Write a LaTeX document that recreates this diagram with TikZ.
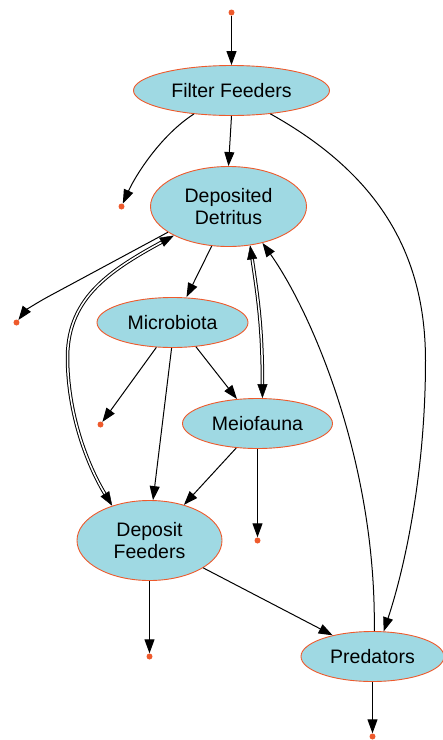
\documentclass[tikz,border=0pt]{standalone}
\usepackage{fontspec}
\setmainfont{Liberation Sans}
\usetikzlibrary{shapes.geometric,arrows.meta}
\definecolor{nodefill}{HTML}{9FD9E3}
\definecolor{nodeline}{HTML}{EE5A2C}
\tikzset{
  every picture/.style={x=1pt,y=-1pt},
  pool/.style={ellipse,draw=nodeline,fill=nodefill,line width=0.9pt,inner sep=0pt,align=center,
    font=\fontsize{19.5}{22}\selectfont},
  sink/.style={circle,fill=nodeline,inner sep=0pt,minimum size=6pt},
  flow/.style={line width=1pt,-{Triangle[length=14pt,width=10pt]}},
  dline/.style={line width=1pt,double,double distance=1.5pt,shorten <=13pt,shorten >=13pt},
  dtips/.style={draw=white,line width=0.4pt,
    {Triangle[length=14pt,width=10pt,color=black]}-{Triangle[length=14pt,width=10pt,color=black]}}
}
\begin{document}
\begin{tikzpicture}
\useasboundingbox (-0.5,-0.5) rectangle (442.5,739.5);
% nodes
\node[pool,minimum width=196pt,minimum height=50pt] (ff) at (231,90) {Filter Feeders};
\node[pool,minimum width=156pt,minimum height=80pt] (dd) at (228,206) {Deposited\\Detritus};
\node[pool,minimum width=151pt,minimum height=50pt] (mb) at (172,322) {Microbiota};
\node[pool,minimum width=150pt,minimum height=50pt] (mf) at (257,423) {Meiofauna};
\node[pool,minimum width=145pt,minimum height=80pt] (df) at (149,540) {Deposit\\Feeders};
\node[pool,minimum width=143pt,minimum height=50pt] (pr) at (372,656) {Predators};
% sinks / sources
\node[sink] (d0) at (231,12) {};
\node[sink] (d1) at (121,206) {};
\node[sink] (d2) at (16,322) {};
\node[sink] (d3) at (100,424) {};
\node[sink] (d4) at (257,540) {};
\node[sink] (d5) at (149,656) {};
\node[sink] (d6) at (372,736) {};
% edges
\draw[flow] (d0) -- (ff.north);
\draw[flow] (ff.212) .. controls (160,135) and (135,175) .. (d1);
\draw[flow] (ff.south) -- (dd.north);
\draw[flow] (ff.329.5) .. controls (375,172) and (425,250) .. (425,360)
   .. controls (425,470) and (405,565) .. (pr.66);
\draw[flow] (dd.203) -- (48,296) .. controls (35,303) and (25,310) .. (d2);
\draw[flow] (dd.247) -- (mb.north -| 186,0);
% double connectors: Deposited Detritus <-> Deposit Feeders
\draw[dline] (dd.208) .. controls (105,272) and (66,300) .. (67,360)
   .. controls (68,420) and (90,470) .. (df.137);
\draw[dtips] (dd.208) .. controls (105,272) and (66,300) .. (67,360)
   .. controls (68,420) and (90,470) .. (df.137);
% double connectors: Deposited Detritus <-> Meiofauna
\draw[dline] (dd.299) .. controls (258,300) and (262,330) .. (mf.79);
\draw[dtips] (dd.299) .. controls (258,300) and (262,330) .. (mf.79);
\draw[flow] (pr.86) .. controls (376,460) and (310,310) .. (dd.313);
\draw[flow] (mb.237) -- (d3);
\draw[flow] (mb.268) -- (df.85);
\draw[flow] (mb.314) -- (mf.130);
\draw[flow] (mf.229) -- (df.46);
\draw[flow] (mf.south) -- (d4);
\draw[flow] (df.south) -- (d5);
\draw[flow] (df.333) -- (pr.152);
\draw[flow] (pr.south) -- (d6);
\end{tikzpicture}
\end{document}
